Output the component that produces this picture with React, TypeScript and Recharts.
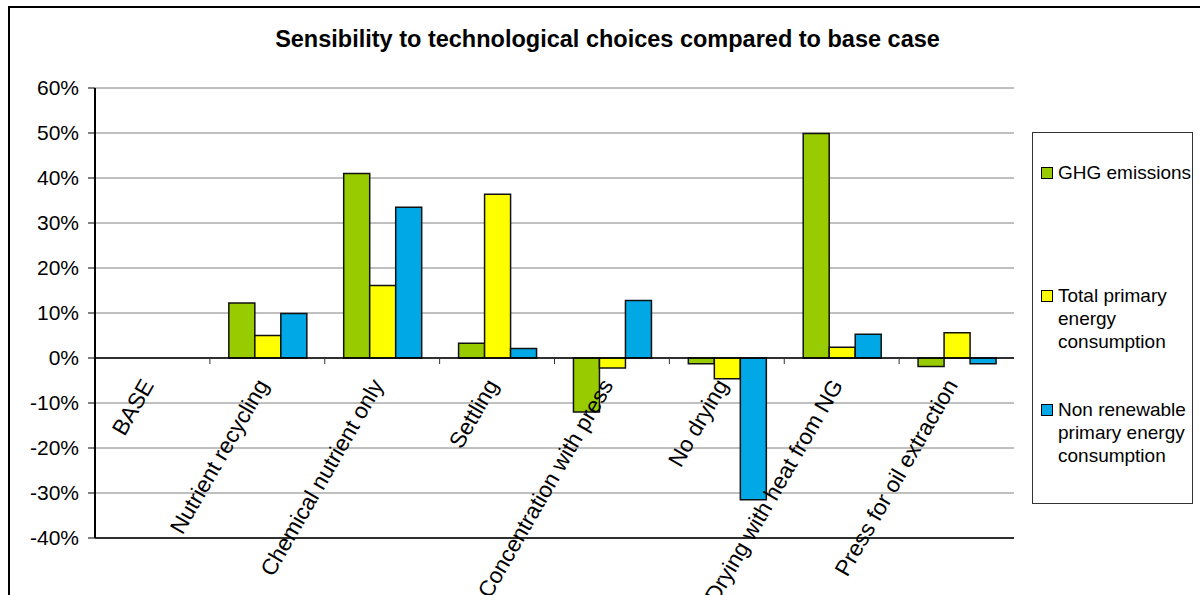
import React from 'react';
import { BarChart, Bar, XAxis, YAxis, CartesianGrid, ReferenceLine } from 'recharts';

// Scenario categories along the x axis
const categories = [
  'BASE',
  'Nutrient recycling',
  'Chemical nutrient only',
  'Settling',
  'Concentration with press',
  'No drying',
  'Drying with heat from NG',
  'Press for oil extraction',
];

// Relative change versus the base case, in percent
const ghgEmissions = [0, 12.2, 41.0, 3.3, -12.0, -1.3, 49.9, -1.9];
const totalPrimaryEnergy = [0, 5.0, 16.1, 36.4, -2.2, -4.6, 2.4, 5.6];
const nonRenewablePrimaryEnergy = [0, 9.9, 33.5, 2.1, 12.8, -31.5, 5.3, -1.3];

const yTicks = [-40, -30, -20, -10, 0, 10, 20, 30, 40, 50, 60];

const seriesKeys = ['ghg', 'total', 'nonRenewable'];
const seriesNames = [
  'GHG emissions',
  'Total primary energy consumption',
  'Non renewable primary energy consumption',
];
const seriesColors = ['#99CC00', '#FFFF00', '#00A9E6'];

const data = categories.map((name, i) => ({
  name,
  ghg: ghgEmissions[i],
  total: totalPrimaryEnergy[i],
  nonRenewable: nonRenewablePrimaryEnergy[i],
}));

const FONT = '"Liberation Sans", Arial, sans-serif';

const WIDTH = 1200;
const HEIGHT = 595;
const PLOT_LEFT = 95;
const PLOT_TOP = 88;
const PLOT_RIGHT = 1014;
const PLOT_BOTTOM = 538;
const Y_AXIS_WIDTH = 80;
const X_AXIS_HEIGHT = 2;
const Y_MIN = yTicks[0];
const Y_MAX = yTicks[yTicks.length - 1];

const PLOT_HEIGHT = PLOT_BOTTOM - PLOT_TOP;
const BAND = (PLOT_RIGHT - PLOT_LEFT) / categories.length;
const ZERO_Y = PLOT_TOP + (PLOT_HEIGHT * Y_MAX) / (Y_MAX - Y_MIN);

const LABEL_ANGLE = -60;
const LABEL_DX = 2;
const LABEL_DY = 27;

// Category labels hang from the zero line, with tick marks between categories
const CategoryTick = (props: any) => {
  const { x, payload, index } = props;
  const ax = x + LABEL_DX;
  const ay = ZERO_Y + LABEL_DY;
  const boundary = x + BAND / 2;
  return (
    <g>
      {index < categories.length - 1 && (
        <line x1={boundary} x2={boundary} y1={ZERO_Y} y2={ZERO_Y + 6} stroke="#333" strokeWidth={1} />
      )}
      <text
        x={ax}
        y={ay}
        textAnchor="end"
        transform={`rotate(${LABEL_ANGLE}, ${ax}, ${ay})`}
        fontSize={22.5}
        fontFamily={FONT}
        fill="#000"
      >
        {payload.value}
      </text>
    </g>
  );
};

const legendSpacing = [28, 100, 45];

const Legend = () => (
  <div
    style={{
      position: 'absolute',
      left: 1032,
      top: 132,
      width: 161,
      height: 372,
      border: '1px solid #333',
      boxSizing: 'border-box',
      fontFamily: FONT,
      fontSize: 19,
      lineHeight: '23px',
      color: '#000',
    }}
  >
    {seriesNames.map((name, i) => (
      <div key={name} style={{ display: 'flex', alignItems: 'flex-start', marginTop: legendSpacing[i], paddingLeft: 8 }}>
        <div
          style={{
            width: 10,
            height: 10,
            marginTop: 6,
            marginRight: 5,
            background: seriesColors[i],
            border: '1px solid #000',
            flexShrink: 0,
          }}
        />
        <div style={{ width: 140 }}>{name}</div>
      </div>
    ))}
  </div>
);

export default function App() {
  return (
    <div style={{ position: 'absolute', left: 0, top: 0, width: WIDTH, height: HEIGHT, background: '#fff', overflow: 'hidden' }}>
      <div
        style={{
          position: 'absolute',
          left: 8,
          top: 6,
          width: WIDTH - 8,
          height: HEIGHT - 6,
          borderTop: '2px solid #000',
          borderLeft: '2px solid #000',
          boxSizing: 'border-box',
        }}
      />
      <div
        style={{
          position: 'absolute',
          left: 0,
          top: 26,
          width: 1215,
          textAlign: 'center',
          fontFamily: FONT,
          fontWeight: 'bold',
          fontSize: 23.5,
          lineHeight: '26px',
          color: '#000',
        }}
      >
        Sensibility to technological choices compared to base case
      </div>
      <div style={{ position: 'absolute', left: 0, top: 0 }}>
        <BarChart
          width={WIDTH}
          height={HEIGHT}
          data={data}
          margin={{
            top: PLOT_TOP,
            right: WIDTH - PLOT_RIGHT,
            bottom: HEIGHT - PLOT_BOTTOM - X_AXIS_HEIGHT,
            left: PLOT_LEFT - Y_AXIS_WIDTH,
          }}
          barCategoryGap="16.5%"
          barGap={0}
        >
          <CartesianGrid horizontal vertical={false} stroke="#808080" strokeWidth={1} />
          <XAxis
            dataKey="name"
            height={X_AXIS_HEIGHT}
            interval={0}
            tick={(p: any) => <CategoryTick {...p} />}
            tickLine={false}
            axisLine={{ stroke: '#000', strokeWidth: 1.5 }}
          />
          <YAxis
            domain={[Y_MIN, Y_MAX]}
            ticks={yTicks}
            width={Y_AXIS_WIDTH}
            tickFormatter={(v: number) => `${v}%`}
            tickSize={7}
            tickMargin={9}
            tick={{ fill: '#000', fontSize: 21, fontFamily: FONT }}
            tickLine={{ stroke: '#000' }}
            axisLine={{ stroke: '#000', strokeWidth: 2 }}
            allowDataOverflow
          />
          <YAxis
            yAxisId="frame"
            orientation="right"
            domain={[Y_MIN, Y_MAX]}
            width={0}
            tick={false}
            tickLine={false}
            axisLine={{ stroke: '#808080', strokeWidth: 1.5 }}
          />
          {seriesKeys.map((key, i) => (
            <Bar
              key={key}
              dataKey={key}
              name={seriesNames[i]}
              fill={seriesColors[i]}
              stroke="#111"
              strokeWidth={1.5}
              isAnimationActive={false}
            />
          ))}
          <ReferenceLine y={0} stroke="#000" strokeWidth={1.5} />
        </BarChart>
      </div>
      <Legend />
    </div>
  );
}
